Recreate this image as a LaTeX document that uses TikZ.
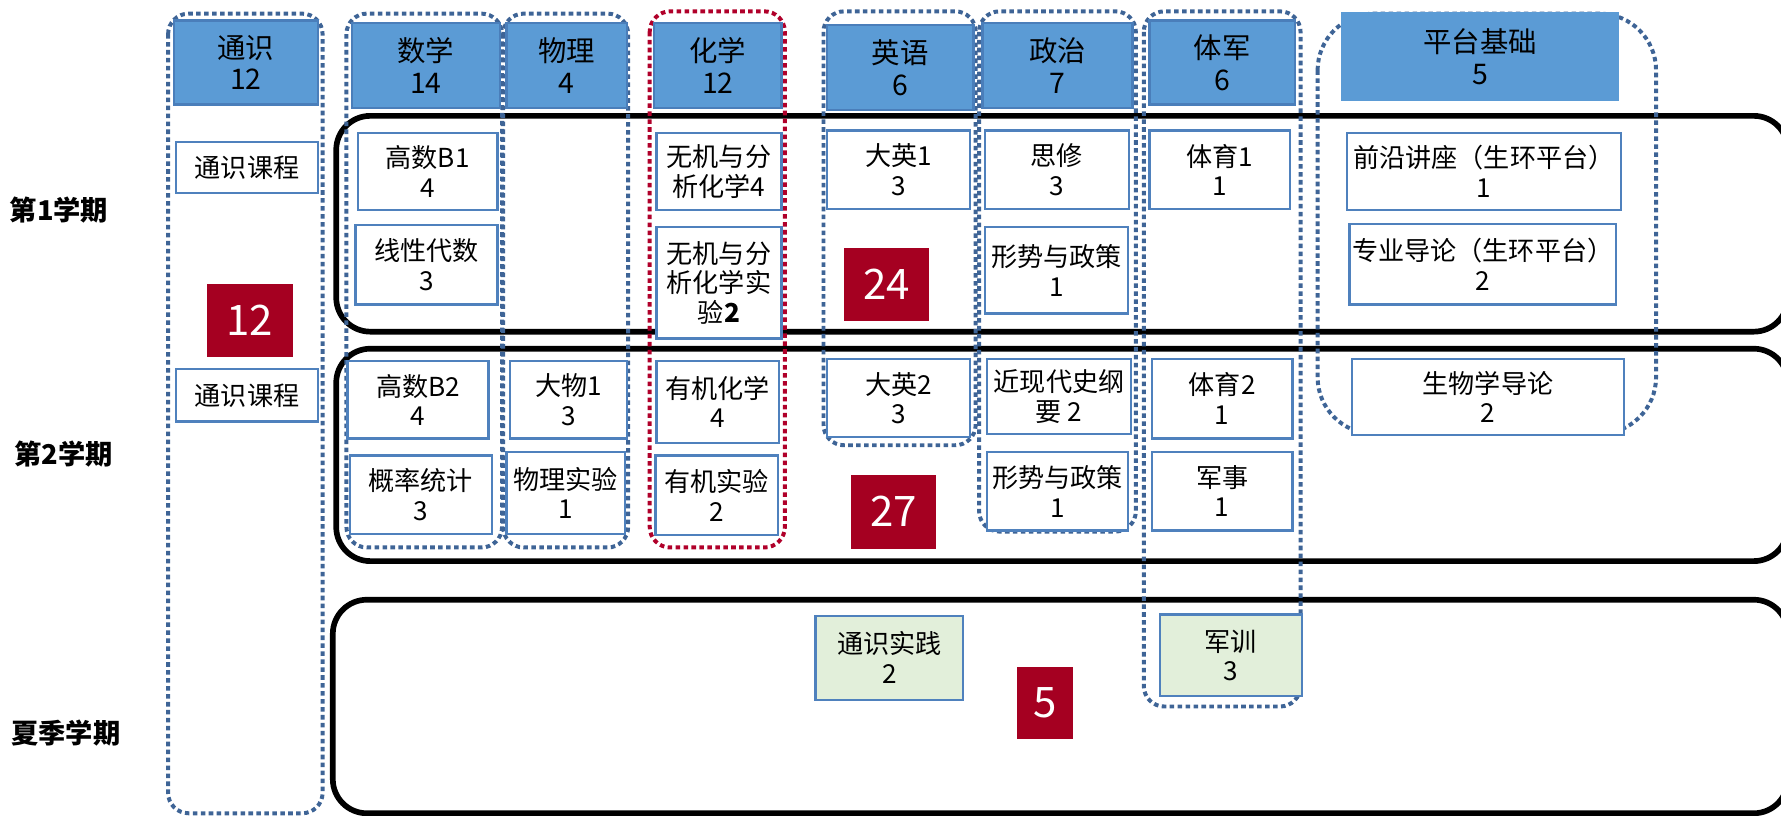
\documentclass[tikz,border=0pt]{standalone}
\usepackage{fontspec}
\setmainfont{Noto Sans CJK SC}
\definecolor{hdrblue}{HTML}{5B9BD5}
\definecolor{hdrline}{HTML}{4A7EBA}
\definecolor{boxline}{HTML}{4F81BD}
\definecolor{dotblue}{HTML}{3E6496}
\definecolor{dotred}{HTML}{B0002A}
\definecolor{redbox}{HTML}{A50021}
\definecolor{greenfill}{HTML}{E2EFDA}
\tikzset{
  semframe/.style={draw=black, line width=5pt, rounded corners=30pt},
  coldot/.style={draw=dotblue, line width=3.5pt, dash pattern=on 4pt off 3pt, rounded corners=18pt},
  coldotred/.style={coldot, draw=dotred},
  header/.style={draw=hdrline, line width=2pt, fill=hdrblue, align=center, inner sep=0pt,
    font=\fontsize{25}{28}\selectfont},
  course/.style={draw=boxline, line width=2pt, fill=white, align=center, inner sep=0pt,
    font=\fontsize{23}{26}\selectfont},
  summer/.style={course, fill=greenfill},
  total/.style={fill=redbox, text=white, inner sep=0pt, font=\fontsize{37}{40}\selectfont},
  semlabel/.style={font=\fontsize{24}{28}\selectfont\bfseries}
}
\begin{document}
\begin{tikzpicture}[x=1pt,y=-1pt]
\useasboundingbox (0,0) rectangle (1568,718);
% semester frames
\draw[semframe] (296,102) rectangle (1574,292);
\draw[semframe] (296,307) rectangle (1574,494);
\draw[semframe] (293,528) rectangle (1574,716);
% column groups
\draw[coldot] (148,12) rectangle (284,716);
\draw[coldot] (305,12) rectangle (442,482);
\draw[coldot] (443,12) rectangle (553,482);
\draw[coldotred] (572,10) rectangle (691,482);
\draw[coldot] (725,10) rectangle (859,392);
\draw[coldot] (862,10) rectangle (1000,468);
\draw[coldot] (1007,10) rectangle (1145,622);
\draw[coldot, rounded corners=50pt] (1160,12) rectangle (1458,382);
% semester labels
\node[semlabel] (s1) at (52,185) {第1学期};
\node[semlabel] (s2) at (56,400) {第2学期};
\node[semlabel] (s3) at (58,645) {夏季学期};
% headers
\node[header, minimum width=127pt, minimum height=74pt] (hts) at (216.5,55) {通识\\12};
\node[header, minimum width=130pt, minimum height=75pt] (hsx) at (375,57.5) {数学\\14};
\node[header, minimum width=106pt, minimum height=75pt] (hwl) at (499,57.5) {物理\\4};
\node[header, minimum width=112pt, minimum height=75pt] (hhx) at (632,57.5) {化学\\12};
\node[header, minimum width=129pt, minimum height=75pt] (hyy) at (792.5,59.5) {英语\\6};
\node[header, minimum width=132pt, minimum height=75pt] (hzz) at (931,57.5) {政治\\7};
\node[header, minimum width=128pt, minimum height=74pt] (htj) at (1076,55) {体军\\6};
\node[header, draw=hdrblue, minimum width=242pt, minimum height=76pt] (hpt) at (1303,50) {平台基础\\5};
% semester 1
\node[course, minimum width=125pt, minimum height=45pt] (tsk1) at (217.5,147.5) {通识课程};
\node[course, minimum width=123pt, minimum height=68pt] (gsb1) at (376.5,151) {高数B1\\4};
\node[course, minimum width=125pt, minimum height=70pt] (xxds) at (375.5,233) {线性代数\\3};
\node[course, minimum width=110pt, minimum height=68pt] (wj1) at (633,151) {无机与分\\析化学4};
\node[course, minimum width=110pt, minimum height=98pt] (wj2) at (633,249) {无机与分\\析化学实\\验\textbf{2}};
\node[course, minimum width=126pt, minimum height=69pt] (dy1) at (791,149.5) {大英1\\3};
\node[course, minimum width=127pt, minimum height=69pt] (sx) at (930.5,149.5) {思修\\3};
\node[course, minimum width=126pt, minimum height=76pt] (xs1) at (930,238) {形势与政策\\1};
\node[course, minimum width=124pt, minimum height=69pt] (ty1) at (1074,149.5) {体育1\\1};
\node[course, minimum width=241pt, minimum height=68pt] (qy) at (1306.5,151) {前沿讲座（生环平台）\\1};
\node[course, minimum width=235pt, minimum height=71pt] (zy) at (1305.5,232.5) {专业导论（生环平台）\\2};
% semester 2
\node[course, minimum width=125pt, minimum height=46pt] (tsk2) at (217.5,348) {通识课程};
\node[course, minimum width=124pt, minimum height=68pt] (gsb2) at (368,352) {高数B2\\4};
\node[course, minimum width=103pt, minimum height=68pt] (dw1) at (500.5,352) {大物1\\3};
\node[course, minimum width=108pt, minimum height=72pt] (yjhx) at (632,354) {有机化学\\4};
\node[course, minimum width=126pt, minimum height=69pt] (dy2) at (791,350.5) {大英2\\3};
\node[course, minimum width=127pt, minimum height=66pt] (jxd) at (932.5,349) {近现代史纲\\要 2};
\node[course, minimum width=124pt, minimum height=70pt] (ty2) at (1076,351) {体育2\\1};
\node[course, minimum width=240pt, minimum height=67pt] (swx) at (1310,349.5) {生物学导论\\2};
\node[course, minimum width=125pt, minimum height=69pt] (gltj) at (370.5,435.5) {概率统计\\3};
\node[course, minimum width=104pt, minimum height=72pt] (wlsy) at (498,434) {物理实验\\1};
\node[course, minimum width=108pt, minimum height=70pt] (yjsy) at (631,436) {有机实验\\2};
\node[course, minimum width=124pt, minimum height=69pt] (xs2) at (931,432.5) {形势与政策\\1};
\node[course, minimum width=124pt, minimum height=69pt] (js) at (1076,432.5) {军事\\1};
% summer
\node[summer, minimum width=130pt, minimum height=74pt] (tssj) at (783,579) {通识实践\\2};
\node[summer, minimum width=125pt, minimum height=72pt] (jx) at (1083.5,577) {军训\\3};
% totals
\node[total, minimum width=76pt, minimum height=64pt] (r12) at (220,282) {12};
\node[total, minimum width=75pt, minimum height=65pt] (r24) at (780.5,250.5) {24};
\node[total, minimum width=75pt, minimum height=65pt] (r27) at (786.5,450.5) {27};
\node[total, minimum width=50pt, minimum height=64pt] (r5) at (920,619) {5};
\end{tikzpicture}
\end{document}
